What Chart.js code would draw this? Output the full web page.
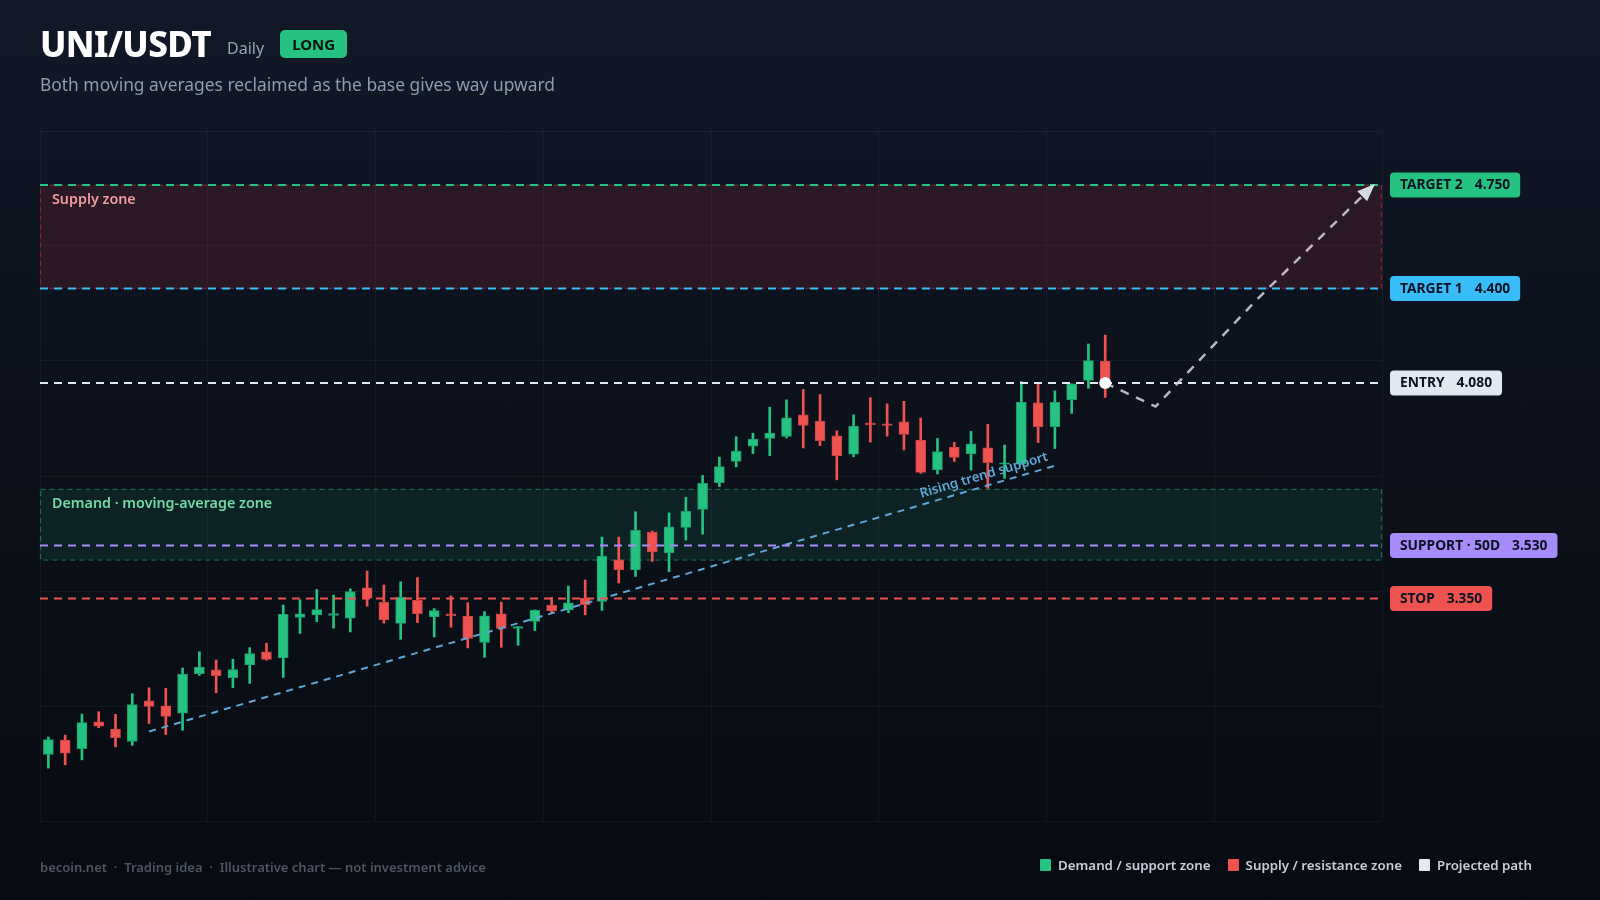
<!DOCTYPE html>
<html>
<head>
<meta charset="utf-8">
<script src="https://cdn.jsdelivr.net/npm/chart.js"></script>
<style>
html, body { margin: 0; padding: 0; }
body {
  width: 1600px; height: 900px; overflow: hidden; position: relative;
  background: linear-gradient(180deg, #111827 0%, #0c111b 45%, #080b11 100%);
  font-family: "Noto Sans", sans-serif;
}
#header { position: absolute; left: 40px; top: 21px; }
.title-row { display: flex; align-items: center; }
h1 { margin: 0; font-size: 35px; font-weight: 800; color: #fff; line-height: 46px; letter-spacing: -0.6px; }
.tf { font-size: 16px; color: #94a3b8; margin-left: 16px; margin-top: 8px; }
.badge {
  margin-left: 16px; background: #26c281; color: #07130e; font-weight: 700; font-size: 15px;
  height: 28px; line-height: 28px; padding: 0 12px; border-radius: 5px;
}
.sub { margin-top: 5px; font-size: 17.4px; color: #8d9bb3; }
#chart-wrap { position: absolute; left: 0; top: 0; width: 1600px; height: 900px; }
#footer { position: absolute; left: 40px; top: 858px; font-size: 13px; font-weight: 600; color: #4f5663; }
#legend {
  position: absolute; right: 68px; top: 856px; display: flex; gap: 17px;
  font-size: 13.3px; color: #c8ceda; font-weight: 600;
}
.item { display: flex; align-items: center; gap: 7px; }
.sw { width: 11px; height: 12px; border-radius: 1px; }
</style>
</head>
<body>
<div id="chart-wrap"><canvas id="chart" width="1600" height="900"></canvas></div>

<div id="header">
  <div class="title-row">
    <h1>UNI/USDT</h1>
    <span class="tf">Daily</span>
    <span class="badge">LONG</span>
  </div>
  <div class="sub">Both moving averages reclaimed as the base gives way upward</div>
</div>

<div id="footer">becoin.net &nbsp;·&nbsp; Trading idea &nbsp;·&nbsp; Illustrative chart — not investment advice</div>
<div id="legend">
  <div class="item"><span class="sw" style="background:#26c281"></span>Demand / support zone</div>
  <div class="item"><span class="sw" style="background:#ef5350"></span>Supply / resistance zone</div>
  <div class="item"><span class="sw" style="background:#e5e9f0"></span>Projected path</div>
</div>

<script>
// daily candles
const opens  = [2.822, 2.871, 2.842, 2.933, 2.908, 2.866, 3.004, 2.987, 2.962, 3.096,
                3.109, 3.082, 3.125, 3.170, 3.149, 3.286, 3.295, 3.293, 3.284, 3.386,
                3.337, 3.266, 3.344, 3.288, 3.298, 3.291, 3.202, 3.298, 3.249, 3.273,
                3.327, 3.312, 3.352, 3.340, 3.481, 3.447, 3.575, 3.505, 3.591, 3.652,
                3.742, 3.814, 3.866, 3.892, 3.899, 3.972, 3.951, 3.901, 3.839, 3.945,
                3.942, 3.948, 3.887, 3.786, 3.863, 3.840, 3.860, 3.805, 3.805, 4.013,
                3.932, 4.023, 4.089, 4.153];
const highs  = [2.881, 2.888, 2.959, 2.967, 2.958, 3.028, 3.048, 3.046, 3.115, 3.170,
                3.142, 3.145, 3.184, 3.199, 3.328, 3.346, 3.381, 3.362, 3.383, 3.443,
                3.396, 3.407, 3.421, 3.316, 3.359, 3.336, 3.306, 3.338, 3.255, 3.312,
                3.354, 3.392, 3.413, 3.558, 3.558, 3.644, 3.579, 3.640, 3.693, 3.767,
                3.829, 3.898, 3.910, 3.998, 4.023, 4.058, 4.041, 3.918, 3.972, 4.030,
                4.009, 4.018, 3.961, 3.892, 3.879, 3.916, 3.940, 3.870, 4.085, 4.079,
                4.053, 4.077, 4.212, 4.242];
const lows   = [2.776, 2.787, 2.804, 2.913, 2.848, 2.853, 2.927, 2.890, 2.904, 3.090,
                3.031, 3.048, 3.063, 3.141, 3.083, 3.232, 3.272, 3.250, 3.237, 3.324,
                3.267, 3.212, 3.269, 3.220, 3.253, 3.183, 3.151, 3.185, 3.192, 3.242,
                3.302, 3.302, 3.295, 3.310, 3.403, 3.425, 3.476, 3.441, 3.548, 3.568,
                3.729, 3.796, 3.841, 3.834, 3.894, 3.860, 3.868, 3.752, 3.830, 3.880,
                3.900, 3.853, 3.774, 3.772, 3.814, 3.785, 3.723, 3.757, 3.805, 3.878,
                3.858, 3.977, 4.062, 4.031];
const closes = [2.873, 2.827, 2.930, 2.918, 2.879, 2.991, 2.985, 2.951, 3.094, 3.118,
                3.089, 3.110, 3.164, 3.144, 3.297, 3.298, 3.313, 3.299, 3.374, 3.351,
                3.278, 3.355, 3.299, 3.309, 3.292, 3.215, 3.292, 3.249, 3.255, 3.310,
                3.308, 3.336, 3.329, 3.494, 3.448, 3.581, 3.508, 3.593, 3.645, 3.740,
                3.797, 3.849, 3.890, 3.910, 3.962, 3.936, 3.885, 3.834, 3.933, 3.938,
                3.936, 3.906, 3.777, 3.848, 3.828, 3.874, 3.810, 3.810, 4.014, 3.932,
                4.014, 4.077, 4.156, 4.080];

// trade levels (right-hand tags)
const levelNames  = ['TARGET 2', 'TARGET 1', 'ENTRY', 'SUPPORT · 50D', 'STOP'];
const levelValues = [4.750, 4.400, 4.080, 3.530, 3.350];
const levelColors = ['#26c281', '#38bdf8', '#e2e8f0', '#a78bfa', '#ef5350'];

// zones
const zoneNames   = ['Supply zone', 'Demand · moving-average zone'];
const zoneLows    = [4.40, 3.48];
const zoneHighs   = [4.75, 3.72];

// rising trend support
const trendX = [6, 60];
const trendY = [2.90, 3.80];

// projected path from entry
const projX = [63, 66, 72, 79];
const projY = [4.08, 4.00, 4.36, 4.75];

const xMin = -0.5, xMax = 79.5;
const yMin = 2.597, yMax = 4.933;

const GREEN = '#26c281', RED = '#ef5350';
const FONT = '"Noto Sans", sans-serif';

const isUp = closes.map((c, i) => c >= opens[i]);
const bodyData = opens.map((o, i) => ({ x: i, y: [o, closes[i]] }));
const wickData = opens.map((o, i) => ({ x: i, y: [lows[i], highs[i]] }));

const levelSets = levelValues.map((v, i) => ({
  type: 'line',
  data: [{ x: xMin, y: v }, { x: xMax - 0.2, y: v }],
  borderColor: levelColors[i],
  borderWidth: 2,
  borderDash: [8, 6],
  pointRadius: 0,
  order: 1
}));

function roundRect(ctx, x, y, w, h, r) {
  ctx.beginPath();
  ctx.moveTo(x + r, y);
  ctx.arcTo(x + w, y, x + w, y + h, r);
  ctx.arcTo(x + w, y + h, x, y + h, r);
  ctx.arcTo(x, y + h, x, y, r);
  ctx.arcTo(x, y, x + w, y, r);
  ctx.closePath();
}

const zonesPlugin = {
  id: 'zones',
  beforeDatasetsDraw(chart) {
    const { ctx, chartArea: a, scales: { y } } = chart;
    const fills = ['rgba(150, 40, 60, 0.22)', 'rgba(30, 160, 120, 0.13)'];
    const borders = ['rgba(190, 50, 70, 0.55)', 'rgba(38, 194, 129, 0.45)'];
    const texts = ['#f19a9e', '#72dba4'];
    ctx.save();
    zoneNames.forEach((name, i) => {
      const top = y.getPixelForValue(zoneHighs[i]);
      const bot = y.getPixelForValue(zoneLows[i]);
      ctx.fillStyle = fills[i];
      ctx.fillRect(a.left, top, a.right - a.left, bot - top);
      ctx.setLineDash([5, 4]);
      ctx.lineWidth = 1.3;
      ctx.strokeStyle = borders[i];
      ctx.strokeRect(a.left + 0.5, top, a.right - a.left - 1, bot - top);
      ctx.setLineDash([]);
      ctx.fillStyle = texts[i];
      ctx.font = '600 14.3px ' + FONT;
      ctx.textBaseline = 'middle';
      ctx.fillText(name, a.left + 12, top + 15);
    });
    ctx.restore();
  }
};

const overlayPlugin = {
  id: 'overlay',
  afterDatasetsDraw(chart) {
    const { ctx, scales: { x, y } } = chart;
    ctx.save();
    // trend label
    const x1 = x.getPixelForValue(trendX[0]), y1 = y.getPixelForValue(trendY[0]);
    const x2 = x.getPixelForValue(trendX[1]), y2 = y.getPixelForValue(trendY[1]);
    const ang = Math.atan2(y2 - y1, x2 - x1);
    const t = 0.925;
    ctx.translate(x1 + (x2 - x1) * t, y1 + (y2 - y1) * t);
    ctx.rotate(ang);
    ctx.fillStyle = '#5fa6d6';
    ctx.font = '600 13.3px ' + FONT;
    ctx.textAlign = 'center';
    ctx.textBaseline = 'bottom';
    ctx.fillText('Rising trend support', 0, -4);
    ctx.restore();

    // arrow head at end of projected path
    const n = projX.length;
    const ax = x.getPixelForValue(projX[n - 1]), ay = y.getPixelForValue(projY[n - 1]);
    const bx = x.getPixelForValue(projX[n - 2]), by = y.getPixelForValue(projY[n - 2]);
    const a2 = Math.atan2(ay - by, ax - bx);
    ctx.save();
    ctx.translate(ax, ay);
    ctx.rotate(a2);
    ctx.fillStyle = '#d5d9e0';
    ctx.beginPath();
    ctx.moveTo(2, 0);
    ctx.lineTo(-16, -7);
    ctx.lineTo(-16, 7);
    ctx.closePath();
    ctx.fill();
    ctx.restore();
  },
  afterDraw(chart) {
    const { ctx, chartArea: a, scales: { y } } = chart;
    ctx.save();
    ctx.font = '700 13.8px ' + FONT;
    ctx.textBaseline = 'middle';
    levelValues.forEach((v, i) => {
      const py = y.getPixelForValue(v);
      const name = levelNames[i], val = v.toFixed(3);
      const wn = ctx.measureText(name).width, wv = ctx.measureText(val).width;
      const padX = 10, gap = 12, h = 25;
      const w = padX + wn + gap + wv + padX;
      const bx = a.right + 8;
      ctx.fillStyle = levelColors[i];
      roundRect(ctx, bx, py - h / 2, w, h, 4);
      ctx.fill();
      ctx.fillStyle = '#0b1220';
      ctx.fillText(name, bx + padX, py + 0.5);
      ctx.fillText(val, bx + padX + wn + gap, py + 0.5);
    });
    ctx.restore();
  }
};

const gridColor = 'rgba(255, 255, 255, 0.045)';

new Chart(document.getElementById('chart'), {
  type: 'bar',
  data: {
    datasets: [
      {
        type: 'line',
        data: projX.map((v, i) => ({ x: v, y: projY[i] })),
        borderColor: 'rgba(210, 215, 224, 0.85)',
        borderWidth: 2.5,
        borderDash: [9, 8],
        pointRadius: projX.map((_, i) => (i === 0 ? 6 : 0)),
        pointBackgroundColor: '#ffffff',
        pointBorderWidth: 0,
        order: 0
      },
      ...levelSets,
      {
        type: 'line',
        data: trendX.map((v, i) => ({ x: v, y: trendY[i] })),
        borderColor: '#5fa6d6',
        borderWidth: 2,
        borderDash: [7, 6],
        pointRadius: 0,
        order: 2
      },
      {
        data: bodyData,
        backgroundColor: isUp.map(u => (u ? GREEN : RED)),
        borderColor: isUp.map(u => (u ? '#1e9e6a' : '#c94545')),
        borderWidth: 1,
        borderSkipped: false,
        barThickness: 10,
        grouped: false,
        order: 3
      },
      {
        data: wickData,
        backgroundColor: isUp.map(u => (u ? GREEN : RED)),
        borderWidth: 0,
        barThickness: 2,
        grouped: false,
        order: 4
      }
    ]
  },
  options: {
    responsive: false,
    animation: false,
    layout: { padding: { left: 40, top: 131, right: 218, bottom: 79 } },
    plugins: { legend: { display: false }, tooltip: { enabled: false } },
    scales: {
      x: {
        type: 'linear', min: xMin, max: xMax, offset: false,
        ticks: { display: false },
        grid: { color: gridColor, drawTicks: false, offset: false },
        border: { display: false },
        afterBuildTicks: s => {
          const t = [];
          for (let v = xMin; v <= xMax + 0.01; v += 10) t.push({ value: v });
          s.ticks = t;
        }
      },
      y: {
        type: 'linear', min: yMin, max: yMax,
        ticks: { display: false },
        grid: { color: gridColor, drawTicks: false },
        border: { display: false },
        afterBuildTicks: s => {
          const t = [];
          for (let k = 0; k <= 6; k++) t.push({ value: yMin + (yMax - yMin) * k / 6 });
          s.ticks = t;
        }
      }
    }
  },
  plugins: [zonesPlugin, overlayPlugin]
});
</script>
</body>
</html>
